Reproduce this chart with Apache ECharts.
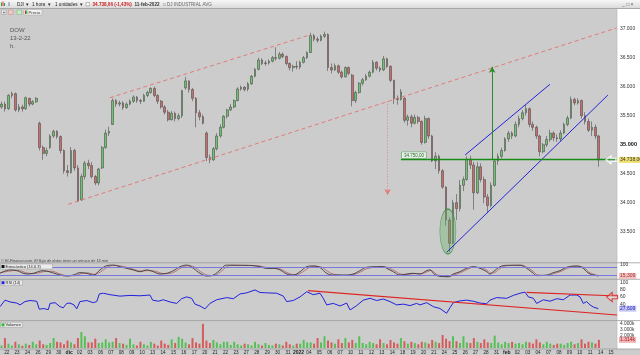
<!DOCTYPE html>
<html><head><meta charset="utf-8">
<script src="https://cdn.jsdelivr.net/npm/echarts@6/dist/echarts.min.js"></script>
<style>html,body{margin:0;padding:0;background:#cccccc;overflow:hidden}#c{width:640px;height:355px}</style>
</head><body><div id="c"></div>
<script>
// ---------- DATA ----------
const dayLabels = ['22','23','24','26','29','30','dic','02','03','06','07','08','09','10','13','14','15','16','17','20','21','22','23','27','28','29','30','31','2022','04','05','06','07','10','11','12','13','14','18','19','20','21','24','25','26','27','28','31','feb','02','03','04','07','08','09','10','11','14','15'];
const boldLabels = ['dic','2022','feb'];
const FIRST_DAY = -1; // first session in ohlcDays is the one before '22'
// three candles per session: [open, close, low, high]
const ohlcDays = [
 [[35600,35650,35560,35700],[35650,35700,35620,35740],[35700,35620,35570,35740]],
 [[35620,35850,35600,35870],[35850,35880,35800,35914],[35880,35600,35570,35900]],
 [[35600,35650,35560,35700],[35650,35620,35570,35690],[35620,35810,35600,35830]],
 [[35800,35700,35660,35810],[35700,35740,35680,35770],[35740,35800,35720,35820]],
 [[35370,34950,34900,35400],[34950,34850,34740,34990],[34850,34900,34800,34950]],
 [[34950,35150,34930,35180],[35150,35230,35120,35260],[35230,35140,35100,35250]],
 [[35140,34900,34850,35160],[34900,34550,34500,34920],[34550,34520,34450,34650]],
 [[34520,34900,34500,34960],[34900,34600,34550,34930],[34600,34030,34010,34650]],
 [[34050,34450,34030,34500],[34450,34680,34400,34720],[34680,34640,34580,34740]],
 [[34640,34450,34420,34700],[34450,34340,34300,34480],[34340,34580,34300,34600]],
 [[34600,34950,34580,34980],[34950,35200,34930,35260],[35200,35230,35150,35310]],
 [[35350,35760,35340,35800],[35760,35700,35650,35790],[35700,35720,35660,35760]],
 [[35720,35640,35600,35750],[35640,35700,35620,35730],[35700,35750,35680,35780]],
 [[35750,35820,35720,35850],[35820,35760,35720,35840],[35760,35750,35700,35790]],
 [[35750,35850,35740,35880],[35850,35900,35820,35930],[35900,35970,35880,35990]],
 [[35970,35850,35820,36000],[35850,35750,35700,35870],[35750,35650,35620,35770]],
 [[35650,35560,35520,35680],[35560,35430,35400,35600],[35430,35540,35420,35580]],
 [[35540,35450,35400,35570],[35450,35500,35420,35540],[35500,35930,35460,35950]],
 [[35980,36100,35950,36170],[36100,35950,35900,36110],[35950,35800,35750,35980]],
 [[35800,35550,35300,35820],[35550,35480,35420,35600],[35480,35370,35350,35520]],
 [[35200,34780,34720,35230],[34780,34740,34680,34830],[34740,34930,34720,34960]],
 [[34930,35150,34900,35200],[35150,35300,35120,35350],[35300,35490,35280,35510]],
 [[35490,35600,35450,35620],[35600,35650,35580,35700],[35650,35760,35630,35780]],
 [[35760,35960,35750,35990],[35960,35990,35930,36020],[35990,35950,35920,36010]],
 [[35960,36050,35920,36080],[36050,36180,36030,36200],[36180,36300,36160,36320]],
 [[36300,36460,36280,36500],[36460,36400,36370,36490],[36400,36410,36360,36450]],
 [[36410,36440,36380,36470],[36440,36500,36420,36530],[36500,36490,36450,36680]],
 [[36490,36560,36470,36600],[36560,36520,36490,36590],[36520,36400,36370,36540]],
 [[36400,36330,36280,36420],[36330,36350,36260,36380],[36350,36340,36300,36440]],
 [[36340,36420,36300,36450],[36420,36500,36400,36530],[36500,36590,36480,36610]],
 [[36590,36880,36580,36930],[36880,36820,36780,36910],[36820,36800,36760,36860]],
 [[36800,36870,36780,36900],[36870,36900,36840,36950],[36900,36330,36270,36920]],
 [[36330,36290,36230,36400],[36290,36360,36270,36400],[36360,36250,36220,36380]],
 [[36250,36170,36140,36280],[36170,36330,36160,36350],[36330,36230,36200,36350]],
 [[36200,35760,35660,36220],[35760,35900,35720,35930],[35900,36060,35880,36080]],
 [[36060,36120,36020,36150],[36120,36180,36100,36220],[36180,36250,36160,36280]],
 [[36250,36420,36230,36460],[36420,36320,36280,36440],[36320,36290,36250,36350]],
 [[36290,36480,36270,36530],[36480,36350,36320,36500],[36350,36110,36080,36370]],
 [[36110,35800,35700,36120],[35800,35780,35690,35850],[35780,35910,35760,35960]],
 [[35800,35420,35380,35820],[35420,35480,35330,35520],[35480,35370,35300,35520]],
 [[35370,35470,35350,35520],[35470,35400,35360,35500],[35400,35040,35000,35420]],
 [[35040,35450,35020,35500],[35450,35150,35100,35470],[35150,34720,34700,35170]],
 [[34720,34800,34580,34870],[34800,34550,34500,34830],[34550,34270,34240,34580]],
 [[34270,33700,33600,34280],[33700,33300,33150,33750],[33300,34000,33280,34050]],
 [[34000,33900,33700,34150],[33900,34300,33850,34390],[34300,34400,34200,34450]],
 [[34400,34750,34380,34800],[34750,34650,34580,34810],[34650,34170,33880,34700]],
 [[34170,34620,34150,34700],[34620,34400,34350,34680],[34400,34100,33990,34450]],
 [[34100,33950,33820,34150],[33950,34300,33920,34350],[34300,34720,34280,34740]],
 [[34720,34800,34650,34850],[34800,34900,34760,34950],[34900,35100,34880,35130]],
 [[35100,35200,35050,35240],[35200,35150,35100,35230],[35150,35350,35130,35400]],
 [[35350,35450,35300,35500],[35450,35550,35420,35600],[35550,35620,35500,35690]],
 [[35620,35350,35300,35640],[35350,35300,35240,35400],[35300,35150,35100,35330]],
 [[35150,34880,34800,35170],[34880,35000,34850,35030],[35000,35090,34960,35150]],
 [[35090,35200,35050,35260],[35200,35120,35060,35230],[35120,35100,35050,35180]],
 [[35100,35200,35050,35250],[35200,35350,35180,35380],[35350,35460,35320,35500]],
 [[35460,35780,35440,35830],[35780,35720,35680,35810],[35720,35760,35690,35800]],
 [[35760,35500,35450,35780],[35500,35400,35350,35560],[35400,35250,35220,35450]],
 [[35250,35300,35150,35400],[35300,35150,35100,35350],[35150,34738.06,34620,35170]]
];
// volume (thousands) per candle
const volDays = [
 [500,400,1600],[700,400,1000],[600,350,700],[500,1000,600],[1200,600,500],[800,1600,1000],
 [900,600,1200],[900,600,1600],[2600,1900,900],[900,1500,800],[900,1400,900],[1000,1600,800],
 [700,500,1500],[600,400,1000],[600,400,1000],[700,400,1200],[700,500,1400],[800,1800,1500],
 [900,600,1600],[900,700,3900],[1200,800,1300],[900,600,1000],[1000,500,1000],[600,400,700],
 [600,400,1000],[600,400,800],[500,400,700],[600,400,1000],[600,400,700],[700,1300,900],
 [900,700,1600],[900,1900,1200],[900,700,1400],[800,1600,900],[1300,800,1900],[800,600,1000],
 [800,600,1400],[800,600,1300],[900,700,1600],[1100,700,1000],[800,600,1000],[900,700,1300],
 [1000,800,2100],[1500,1100,1900],[1100,800,1900],[900,800,1600],[1000,800,1400],[900,800,2000],
 [900,600,1000],[800,1000,700],[800,600,1000],[900,700,1400],[900,600,1000],[700,500,700],
 [700,500,800],[1000,600,800],[1400,700,1000],[900,700,1314]
];
// stochastic (14,6,3) [session position, value]
const stochK = [[-0.64,35],[0.32,60],[0.96,55],[1.92,30],[2.55,35],[3.51,55],[4.16,45],[5.12,22],[5.76,15],[6.39,22],[7.03,40],[7.68,35],[8.31,22],[8.95,60],[9.6,92],[10.23,97],[10.87,84],[11.52,72],[12.15,60],[12.79,47],[13.44,60],[14.07,47],[14.71,30],[15.35,35],[15.99,55],[16.63,84],[17.27,97],[17.91,72],[18.55,35],[19.19,15],[19.83,22],[20.47,60],[21.11,97],[21.75,95],[22.71,95],[23.67,92],[24.31,84],[24.95,72],[25.59,72],[26.23,60],[26.87,30],[27.5,22],[28.15,47],[28.79,84],[29.42,90],[30.07,78],[30.71,35],[31.34,22],[32.63,22],[33.26,30],[33.9,55],[34.55,80],[35.51,84],[36.14,84],[36.47,72],[37.1,47],[37.75,22],[38.39,30],[39.02,35],[39.66,30],[40.31,55],[40.63,60],[40.95,35],[41.27,18],[41.91,10],[42.38,10],[42.86,30],[43.5,47],[44.13,72],[44.77,84],[45.42,72],[46.06,47],[46.38,30],[46.7,47],[47.34,84],[47.98,95],[49.26,95],[49.9,72],[50.54,35],[50.86,18],[51.82,22],[52.46,40],[53.1,55],[53.74,80],[54.7,90],[55.34,72],[55.66,47],[55.98,30],[56.77,15.309]];
const stochD = [[-0.64,40],[0.32,52],[1.0,58],[1.92,38],[2.6,32],[3.6,48],[4.3,50],[5.12,30],[5.9,17],[6.5,18],[7.1,32],[7.8,38],[8.4,27],[9.0,45],[9.7,82],[10.3,94],[10.9,90],[11.6,78],[12.2,64],[12.9,52],[13.5,55],[14.2,52],[14.8,36],[15.4,32],[16.1,46],[16.7,74],[17.35,92],[18.0,82],[18.6,48],[19.25,22],[19.9,18],[20.5,45],[21.2,88],[21.8,96],[22.7,94],[23.7,93],[24.4,88],[25.0,76],[25.6,73],[26.3,66],[26.9,40],[27.6,25],[28.2,36],[28.9,72],[29.5,87],[30.1,84],[30.8,50],[31.4,28],[32.6,20],[33.3,25],[33.95,45],[34.6,70],[35.5,82],[36.2,85],[36.55,78],[37.2,56],[37.8,30],[38.4,26],[39.1,33],[39.7,32],[40.35,46],[40.7,57],[41.0,44],[41.3,25],[41.95,13],[42.45,9],[42.9,22],[43.55,40],[44.2,64],[44.8,80],[45.5,78],[46.1,56],[46.45,36],[46.8,40],[47.4,74],[48.0,92],[49.3,96],[49.95,80],[50.6,45],[50.9,25],[51.9,19],[52.5,33],[53.15,48],[53.8,72],[54.75,88],[55.4,78],[55.7,56],[56.0,38],[56.77,18]];
// RSI (14)
const rsi = [[-0.64,33],[-0.16,51],[0.32,46],[0.96,43],[1.28,38],[1.76,47],[2.24,50],[2.88,48],[3.13,26],[3.51,28],[3.99,25],[4.16,42],[4.64,44],[5.12,33],[5.43,30],[5.76,42],[6.07,43],[6.46,38],[6.72,27],[7.03,47],[7.68,50],[8.31,44],[8.64,47],[8.89,68],[9.27,70],[9.91,66],[10.87,62],[11.83,64],[12.79,63],[13.75,65],[14.0,51],[14.55,48],[15.03,52],[15.67,46],[16.31,42],[16.79,55],[17.27,60],[17.75,56],[18.07,40],[18.55,35],[19.03,27],[19.51,42],[20.15,52],[21.11,58],[21.75,55],[22.39,68],[23.03,71],[23.83,79],[24.31,72],[24.95,71],[25.91,70],[26.55,62],[26.87,47],[27.5,50],[28.15,60],[28.79,74],[29.42,66],[30.07,70],[30.38,56],[30.71,38],[31.34,42],[31.99,35],[32.63,43],[32.95,24],[33.59,36],[34.22,51],[34.87,56],[35.51,50],[36.14,54],[36.78,47],[37.42,38],[38.06,40],[38.7,36],[39.34,42],[39.66,38],[40.31,44],[40.95,33],[41.58,28],[42.22,15],[42.54,30],[42.86,44],[43.5,49],[44.13,51],[44.77,48],[45.42,43],[46.06,41],[46.38,51],[47.02,58],[47.98,56],[48.62,64],[49.26,70],[49.74,73],[50.06,60],[50.54,56],[50.86,42],[51.5,52],[52.14,48],[52.8,55],[53.42,52],[54.06,65],[54.7,65],[55.02,60],[55.34,42],[55.66,47],[55.98,38],[56.3,32],[56.77,27.609]];
// drawn studies, in [session position, price/indicator] units
const channelTop = [[9.91,35810],[28.92,36883]];
const channelBase = [[5.91,33973],[58.57,37015]];
const blueLow = [[42.26,33150],[57.71,35857]];
const blueHigh = [[44.0,34822],[52.14,36041]];
const supportLine = [[37.84,34750],[58.57,34750]];
const targetArrow = [[46.6,34750],[46.6,36345]];
const dropArrow = [[36.56,35745],[36.56,34133]];
const lowMarker = [42.35,33504];
const priceArrow = [58.0,34738.06];
const rsiLong = [[28.92,76.9],[58.57,10.2]];
const rsiShort = [[49.9,72.5],[58.57,62.4]];
const rsiArrow = [58.1,59.5];
const priceTicks = [33500,34000,34500,35000,35500,36000,36500,37000];

// ---------- BUILD ----------
const X_MIN = -0.643, X_MAX = 58.57;
const thou = v => String(Math.round(v)).replace(/\B(?=(\d{3})+(?!\d))/g, '.');
const dec = (v, n) => { const s = v.toFixed(n).split('.'); return thou(+s[0]) + ',' + s[1]; };
const candleData = [], volData = [];
ohlcDays.forEach((day, di) => {
  day.forEach((c, k) => {
    const x = FIRST_DAY + di + (k + 0.5) / day.length;
    candleData.push([x, c[0], c[1], c[2], c[3]]);
    const up = c[1] >= c[0];
    volData.push({value: [x, volDays[di][k]], itemStyle: {color: up ? '#56c056' : '#d65c5c'}});
  });
});
const lastClose = ohlcDays[ohlcDays.length-1].slice(-1)[0][1];
const lastVol = volDays[volDays.length-1].slice(-1)[0];
const seg = (p, ls, label) => [{coord: p[0], symbol: 'none', lineStyle: ls, label: label || {show:false}}, {coord: p[1], symbol: 'none'}];
const arrowSeg = (p, ls) => [{coord: p[0], symbol: 'none', lineStyle: ls, label: {show:false}}, {coord: p[1], symbol: 'arrow', symbolSize: [5,6]}];
const dash = {color: '#e27a7a', type: [4,3], width: 1};
const FS = 4.6;
const HIDDEN = {color: 'rgba(0,0,0,0)', width: 1, opacity: 1};
const valueTag = (txt, bg, fg) => ({show: true, position: 'end', distance: 2, formatter: txt, backgroundColor: bg, color: fg, fontSize: 5, padding: [1,1,0,1], opacity: 1});
const arrowPath = 'path://M0,5L5,0L5,3L10,3L10,7L5,7L5,10Z';
const hiddenAxis = i => ({type:'value', gridIndex:i, min:X_MIN, max:X_MAX, show:false, splitLine:{show:false}});

const txt = (x, y, text, font, fill, extra) => Object.assign({type:'text', x, y, z: 20, style: Object.assign({text, font, fill, verticalAlign:'middle'}, extra || {})});
const F = 'Liberation Sans';
const graphic = [
  {type:'rect', z:-5, shape:{x:0,y:0,width:640,height:8.5}, style:{fill:new echarts.graphic.LinearGradient(0,0,0,1,[{offset:0,color:'#f7f7f7'},{offset:1,color:'#d9d9d9'}])}},
  {type:'line', z:-4, shape:{x1:0,y1:8.5,x2:640,y2:8.5}, style:{stroke:'#a8a8a8', lineWidth:1}},
  {type:'rect', z:-5, shape:{x:617,y:9,width:23,height:340}, style:{fill:'#ffffff'}},
  {type:'line', z:-4, shape:{x1:617,y1:9,x2:617,y2:349}, style:{stroke:'#b5b5b5', lineWidth:0.6}},
  {type:'line', z:-4, shape:{x1:0,y1:262.8,x2:640,y2:262.8}, style:{stroke:'#9c9c9c', lineWidth:0.8}},
  {type:'line', z:-4, shape:{x1:0,y1:279.3,x2:640,y2:279.3}, style:{stroke:'#9c9c9c', lineWidth:0.8}},
  {type:'line', z:-4, shape:{x1:0,y1:320.6,x2:640,y2:320.6}, style:{stroke:'#9c9c9c', lineWidth:0.8}},
  {type:'line', z:-4, shape:{x1:0,y1:349,x2:640,y2:349}, style:{stroke:'#9c9c9c', lineWidth:0.8}},
  // toolbar
  {type:'rect', z:20, shape:{x:1,y:2.5,width:1,height:3.5}, style:{fill:'#3a9a3a'}},
  {type:'rect', z:20, shape:{x:2.5,y:1.5,width:1,height:4.5}, style:{fill:'#c84040'}},
  {type:'rect', z:20, shape:{x:4,y:3,width:1,height:3}, style:{fill:'#3a9a3a'}},
  txt(6.5, 4.5, '⇕', '5px '+F, '#5577aa'),
  txt(17, 4.5, 'DJI  ▾', FS+'px '+F, '#222'),
  txt(32, 4.5, '1 hora  ▾', FS+'px '+F, '#222'),
  txt(55, 4.5, '1 unidades  ▾', FS+'px '+F, '#222'),
  {type:'rect', z:20, shape:{x:86,y:2.6,width:3.4,height:3.4}, style:{fill:'#fff', stroke:'#777', lineWidth:0.5}},
  txt(92.5, 4.5, '34.738,06 (-1,43%)', 'bold '+FS+'px '+F, '#cc2020'),
  txt(134.5, 4.5, '11-feb-2022', 'bold '+FS+'px '+F, '#333'),
  txt(163, 4.5, '□ DJ INDUSTRIAL AVG', FS+'px '+F, '#666'),
  txt(622, 4.3, '_ □ ×', '5px '+F, '#666'),
  {type:'rect', z:20, shape:{x:1.5,y:10,width:4.5,height:4.5}, style:{fill:'#eeeeee', stroke:'#999', lineWidth:0.5}},
  txt(2.4, 12.3, '+', '5px '+F, '#444'),
  {type:'rect', z:20, shape:{x:8.5,y:10,width:4.5,height:4.5}, style:{fill:'#f0c8c8', stroke:'#c88', lineWidth:0.5}},
  {type:'rect', z:20, shape:{x:17,y:10,width:4.5,height:4.5}, style:{fill:'#c8ecc8', stroke:'#7b7', lineWidth:0.5}},
  {type:'rect', z:20, shape:{x:24,y:9.5,width:18,height:5.5}, style:{fill:'#f2f2f2', stroke:'#aaa', lineWidth:0.5}},
  {type:'rect', z:21, shape:{x:25,y:10.5,width:1.2,height:3.5}, style:{fill:'#cc3333'}},
  {type:'rect', z:21, shape:{x:26.2,y:10.5,width:1.2,height:3.5}, style:{fill:'#33aa33'}},
  txt(28.5, 12.4, 'Precio', '4.2px '+F, '#333'),
  // chart titles
  txt(10, 30, 'DOW', '6px '+F, '#555'),
  txt(10, 38.5, '13-2-22', '6px '+F, '#555'),
  txt(10, 46.5, 'h.', '6px '+F, '#555'),
  txt(1, 260.8, '© El-Finance.com. El flujo de datos tiene un retraso de 15 min', 'italic 3.9px '+F, '#444'),
  // panel tags
  {type:'rect', z:20, shape:{x:0.5,y:264,width:52,height:5}, style:{fill:'#ececec', stroke:'#9a9a9a', lineWidth:0.5}},
  {type:'rect', z:21, shape:{x:1.5,y:265,width:3,height:3}, style:{fill:'#111'}},
  txt(5.5, 266.6, 'Estocástico (14,6,3)', '4px '+F, '#222'),
  {type:'rect', z:20, shape:{x:0.5,y:280.2,width:22,height:5}, style:{fill:'#ececec', stroke:'#9a9a9a', lineWidth:0.5}},
  {type:'rect', z:21, shape:{x:1.5,y:281.2,width:3,height:3}, style:{fill:'#2222dd'}},
  txt(5.5, 282.8, 'RSI (14)', '4px '+F, '#222'),
  {type:'rect', z:20, shape:{x:0.5,y:322.3,width:22,height:5}, style:{fill:'#ececec', stroke:'#9a9a9a', lineWidth:0.5}},
  {type:'rect', z:21, shape:{x:1.5,y:323.3,width:3,height:3}, style:{fill:'#33bb33'}},
  txt(5.5, 324.9, 'Volumen', '4px '+F, '#222')
];

const option = {
  animation: false,
  backgroundColor: '#cccccc',
  textStyle: {fontFamily: F},
  graphic,
  grid: [
    {left:0, right:23, top:20, height:240.7},
    {left:0, right:23, top:264.6, height:13.4},
    {left:0, right:23, top:282.3, height:36.4},
    {left:0, right:23, top:321, height:27}
  ],
  xAxis: [hiddenAxis(0), hiddenAxis(1), hiddenAxis(2), {
    type:'value', gridIndex:3, min:X_MIN, max:X_MAX,
    axisLine:{show:false}, axisTick:{show:false}, splitLine:{show:false},
    axisLabel:{
      customValues: dayLabels.map((_, i) => i), margin: 2, fontSize: 4.6, color: '#222',
      formatter: v => { const l = dayLabels[Math.round(v)] || ''; return boldLabels.includes(l) ? '{b|' + l + '}' : l; },
      rich: {b: {fontWeight:'bold', fontSize:5, color:'#222'}}
    }
  }],
  yAxis: [
    {type:'value', gridIndex:0, position:'right', min:33000, max:37150, axisLine:{show:false}, axisTick:{show:false}, splitLine:{show:false},
     axisLabel:{customValues: priceTicks, margin:3, fontSize:5, color:'#333',
       formatter: v => v === 35000 ? '{b|' + thou(v) + '}' : thou(v),
       rich: {b: {fontWeight:'bold', fontSize:5.6, color:'#111'}}}},
    {type:'value', gridIndex:1, position:'right', min:0, max:100, axisLine:{show:false}, axisTick:{show:false}, splitLine:{show:false},
     axisLabel:{customValues:[100], margin:3, fontSize:5, color:'#333'}},
    {type:'value', gridIndex:2, position:'right', min:0, max:100, axisLine:{show:false}, axisTick:{show:false}, splitLine:{show:false},
     axisLabel:{customValues:[40,60,80,100], margin:3, fontSize:5, color:'#333'}},
    {type:'value', gridIndex:3, position:'right', min:0, max:4355, axisLine:{show:false}, axisTick:{show:false}, splitLine:{show:false},
     axisLabel:{customValues:[2000,3000,4000], margin:3, fontSize:4.8, color:'#333', formatter: v => thou(v) + 'k'}}
  ],
  series: [
    {type:'candlestick', xAxisIndex:0, yAxisIndex:0, data:candleData, encode:{x:0, y:[1,2,3,4]}, barWidth:2.2,
     itemStyle:{color:'#6cc46c', color0:'#c96c6c', borderColor:'#4d4d4d', borderColor0:'#4d4d4d', borderWidth:0.6},
     markLine:{silent:true, animation:false, symbol:['none','none'], label:{show:false}, data:[
       seg(channelTop, dash),
       seg(channelBase, dash),
       seg(blueLow, {color:'#2424d6', type:'solid', width:1}),
       seg(blueHigh, {color:'#2424d6', type:'solid', width:1}),
       seg(supportLine, {color:'#178a17', type:'solid', width:1.3},
           {show:true, position:'insideStartTop', distance:1, formatter: dec(supportLine[0][1], 2), fontSize:4.5, color:'#2c6e2c', backgroundColor:'#e6efe6', borderColor:'#4a9a4a', borderWidth:0.5, padding:[1,2,0,2]}),
       arrowSeg(targetArrow, {color:'#2a8c2a', type:'solid', width:1}),
       arrowSeg(dropArrow, {color:'#e27a7a', type:[1,2], width:1}),
       {yAxis: lastClose, lineStyle: HIDDEN, label: valueTag(dec(lastClose, 2), '#f0e070', '#333')}
     ]}},
    {type:'scatter', xAxisIndex:0, yAxisIndex:0, data:[lowMarker], symbol:'circle', symbolSize:[16,45], silent:true, z:4,
     itemStyle:{color:'rgba(100,178,100,0.45)', borderColor:'#3b8b3b', borderWidth:0.8}},
    {type:'scatter', xAxisIndex:0, yAxisIndex:0, data:[priceArrow], symbol:arrowPath, symbolSize:[10,8], silent:true, z:5, clip:false,
     itemStyle:{color:'rgba(255,255,255,0.2)', borderColor:'#ffffff', borderWidth:1.3}},
    {type:'line', xAxisIndex:1, yAxisIndex:1, data:stochD, showSymbol:false, smooth:0.4, lineStyle:{color:'#b87070', width:1}, silent:true},
    {type:'line', xAxisIndex:1, yAxisIndex:1, data:stochK, showSymbol:false, smooth:0.4, lineStyle:{color:'#3a3a3a', width:0.9}, silent:true,
     markLine:{silent:true, animation:false, symbol:['none','none'], label:{show:false}, data:[
       {yAxis:80, lineStyle:{color:'#7777dd', type:'solid', width:1}},
       {yAxis:20, lineStyle:{color:'#7777dd', type:'solid', width:1}},
       {yAxis: stochK[stochK.length-1][1], lineStyle: HIDDEN, label: valueTag(dec(stochK[stochK.length-1][1], 3), '#f2c2c2', '#a03030')}
     ]}},
    {type:'line', xAxisIndex:2, yAxisIndex:2, data:rsi, showSymbol:false, lineStyle:{color:'#2020dd', width:1}, silent:true,
     markLine:{silent:true, animation:false, symbol:['none','none'], label:{show:false}, data:[
       seg(rsiLong, {color:'#e02424', type:'solid', width:1.2}),
       seg(rsiShort, {color:'#e02424', type:'solid', width:1.2}),
       {yAxis: rsi[rsi.length-1][1], lineStyle: HIDDEN, label: valueTag(dec(rsi[rsi.length-1][1], 3), '#c6c6f2', '#2020c0')}
     ]}},
    {type:'scatter', xAxisIndex:2, yAxisIndex:2, data:[rsiArrow], symbol:arrowPath, symbolSize:[11,9], silent:true, z:5, clip:false,
     itemStyle:{color:'rgba(255,255,255,0.35)', borderColor:'#d42020', borderWidth:1.1}},
    {type:'bar', xAxisIndex:3, yAxisIndex:3, data:volData, barWidth:2, silent:true,
     markLine:{silent:true, animation:false, symbol:['none','none'], label:{show:false}, data:[
       {yAxis: lastVol, lineStyle: HIDDEN, label: valueTag(dec(lastVol/1000, 3).replace(',', '.') + 'k', '#f0b4b4', '#b02020')}
     ]}}
  ]
};
const chart = echarts.init(document.getElementById('c'), null, {renderer:'canvas'});
chart.setOption(option);
</script>
</body></html>
